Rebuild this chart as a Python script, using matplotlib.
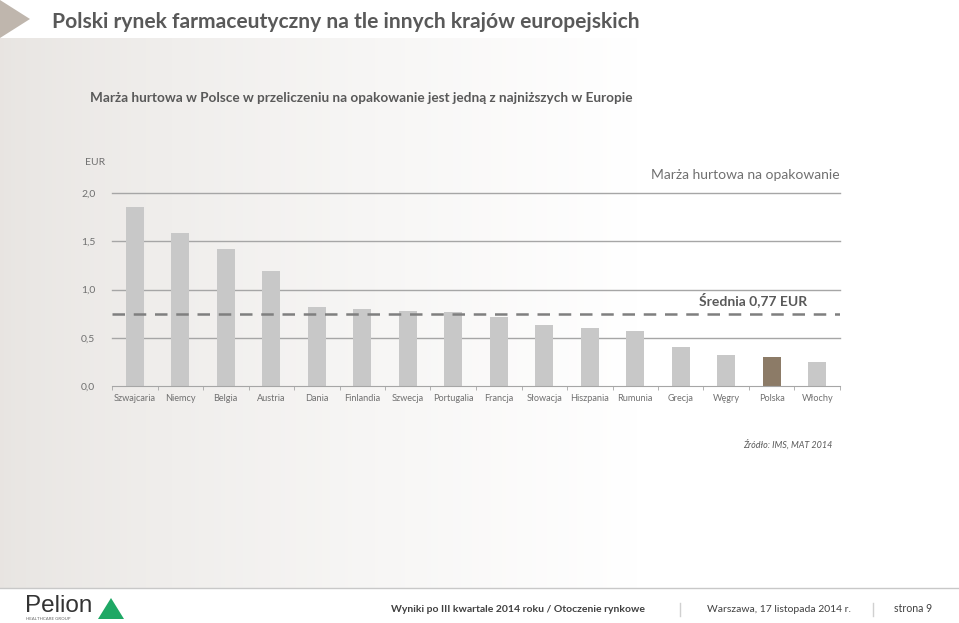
import numpy as np
import matplotlib.pyplot as plt
from matplotlib.patches import Polygon

plt.rcParams['font.family'] = ['Lato', 'DejaVu Sans']

# Data
kraje = ['Szwajcaria', 'Niemcy', 'Belgia', 'Austria', 'Dania', 'Finlandia',
         'Szwecja', 'Portugalia', 'Francja', 'Słowacja', 'Hiszpania',
         'Rumunia', 'Grecja', 'Węgry', 'Polska', 'Włochy']
marza = [1.85, 1.59, 1.42, 1.19, 0.82, 0.80, 0.78, 0.77, 0.72, 0.63, 0.60,
         0.57, 0.40, 0.32, 0.30, 0.25]
srednia = 0.75
srednia_txt = 'Średnia 0,77 EUR'
yticks = [0.0, 0.5, 1.0, 1.5, 2.0]
ytick_labels = ['0,0', '0,5', '1,0', '1,5', '2,0']

W, H = 959, 623
fig = plt.figure(figsize=(W / 100, H / 100), dpi=100)

# background (pixel coords)
bg = fig.add_axes([0, 0, 1, 1])
bg.set_xlim(0, W)
bg.set_ylim(H, 0)
bg.axis('off')
grad = np.linspace(0, 1, 256)
grad = np.clip(grad * 1.5, 0, 1) ** 0.8
c0 = np.array([0.91, 0.898, 0.886])
img = c0[None, :] * (1 - grad[:, None]) + np.ones(3)[None, :] * grad[:, None]
bg.imshow(img[None, :, :], extent=[0, W, 588, 38], aspect='auto', zorder=0)
bg.add_patch(Polygon([[0, 0], [0, 38], [30, 19]], closed=True,
                     facecolor='#bfb6ad', edgecolor='none', zorder=1))
bg.plot([0, W], [588, 588], color='#c8c8c8', lw=1, zorder=1)
bg.text(52, 22, 'Polski rynek farmaceutyczny na tle innych krajów europejskich',
        fontsize=15.1, fontweight='bold', color='#595959', va='center', ha='left')
bg.text(90, 98, 'Marża hurtowa w Polsce w przeliczeniu na opakowanie jest jedną z najniższych w Europie',
        fontsize=9.85, fontweight='bold', color='#595959', va='center', ha='left')
bg.text(832, 445, 'Źródło: IMS, MAT 2014', fontsize=6.5, style='italic',
        color='#595959', va='center', ha='right')

# footer
bg.text(25, 611.5, 'Pelion', fontsize=17.5, color='#333333', va='baseline', ha='left',
        family=['Liberation Sans', 'DejaVu Sans'])
bg.text(26, 617.5, 'HEALTHCARE GROUP', fontsize=3.2, color='#666666', va='top', ha='left')
bg.add_patch(Polygon([[98, 619], [124, 619], [111, 598]], closed=True,
                     facecolor='#1fa865', edgecolor='none'))
bg.text(645, 609, 'Wyniki po III kwartale 2014 roku / Otoczenie rynkowe', fontsize=7.5,
        fontweight='bold', color='#404040', va='center', ha='right')
bg.plot([680, 680], [603, 616], color='#d0d0d0', lw=1)
bg.text(851, 609, 'Warszawa, 17 listopada 2014 r.', fontsize=7.45, color='#404040',
        va='center', ha='right')
bg.plot([873, 873], [603, 616], color='#d0d0d0', lw=1)
bg.text(932, 609, 'strona 9', fontsize=7.6, color='#404040', va='center', ha='right')

# chart
ax = fig.add_axes([112 / W, 1 - 386 / H, 728 / W, 193 / H])
ax.patch.set_alpha(0)
x = np.arange(len(kraje))
kolory = ['#8c7b67' if k == 'Polska' else '#c8c8c8' for k in kraje]
ax.bar(x, marza, width=0.4, color=kolory, zorder=2)
ax.set_xlim(-0.5, len(kraje) - 0.5)
ax.set_ylim(0, 2.0)
ax.set_yticks(yticks)
ax.set_yticklabels(ytick_labels, fontsize=7.5, color='#707070')
for yv in yticks[1:]:
    ax.axhline(yv, color='#a6a6a6', lw=1, zorder=1, clip_on=False)
ax.plot([-0.5, len(kraje) - 0.5], [srednia, srednia], color='#7f7f7f', lw=1.8,
        dashes=(5, 3.5), zorder=3)
ax.text(14.77, srednia + 0.15, srednia_txt, fontsize=10, fontweight='bold',
        color='#595959', ha='right', va='center')
ax.text(1.0, 2.19, 'Marża hurtowa na opakowanie', transform=ax.get_yaxis_transform(),
        fontsize=10, color='#707070', ha='right', va='center')
ax.text(-0.023, 2.32, 'EUR', transform=ax.get_yaxis_transform(), fontsize=7.5,
        color='#707070', ha='center', va='center')

ax.set_xticks(x)
ax.set_xticklabels(kraje, fontsize=6.6, color='#707070')
ax.set_xticks(np.arange(-0.5, len(kraje)), minor=True)
ax.tick_params(axis='x', which='major', length=0, pad=6)
ax.tick_params(axis='x', which='minor', length=3, color='#a6a6a6', direction='out')
ax.tick_params(axis='y', length=0, pad=12)
for s in ['top', 'right', 'left']:
    ax.spines[s].set_visible(False)
ax.spines['bottom'].set_color('#a6a6a6')

fig.savefig('out.png', dpi=100)
